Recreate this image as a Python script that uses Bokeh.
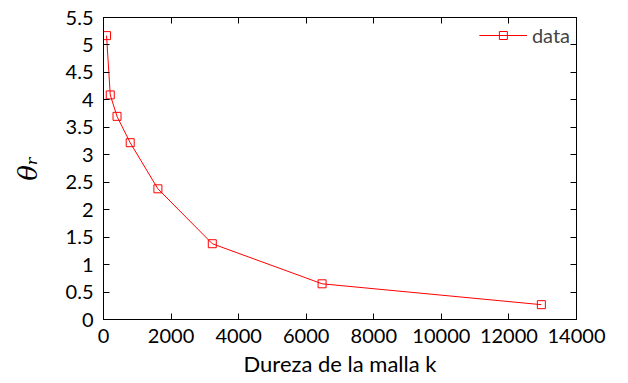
from bokeh.plotting import figure
from bokeh.models import Range1d, FixedTicker, LinearAxis, Legend, LegendItem
from bokeh.embed import file_html
from bokeh.resources import INLINE

# data
k_values = [90, 200, 400, 790, 1610, 3220, 6470, 12960]
theta_r = [5.17, 4.09, 3.70, 3.22, 2.38, 1.38, 0.65, 0.27]
series_name = "data"

x_ticks = [0, 2000, 4000, 6000, 8000, 10000, 12000, 14000]
y_ticks = [0, 0.5, 1, 1.5, 2, 2.5, 3, 3.5, 4, 4.5, 5, 5.5]
y_tick_labels = ["0", "0.5", "1", "1.5", "2", "2.5", "3", "3.5", "4", "4.5", "5", "5.5"]

FONT = "Lato"
RED = "#ff0000"

p = figure(width=628, height=383, output_backend="svg", toolbar_location=None,
           x_range=Range1d(0, 14000), y_range=Range1d(0, 5.5),
           min_border_left=103, min_border_right=52, min_border_top=17, min_border_bottom=64)
p.xgrid.visible = False
p.ygrid.visible = False
p.outline_line_color = "black"
p.outline_line_width = 1
p.background_fill_color = "white"
p.border_fill_color = "white"

line = p.line(k_values, theta_r, line_color=RED, line_width=1)
pts = p.scatter(k_values, theta_r, marker="square", size=8, fill_color=None,
                line_color=RED, line_width=1)

ylabels = {t: l for t, l in zip(y_ticks, y_tick_labels)}

def style(ax, ticks, show_labels):
    ax.ticker = FixedTicker(ticks=ticks)
    ax.major_tick_in = 6
    ax.major_tick_out = 0
    ax.minor_tick_line_color = None
    ax.axis_line_color = "black"
    ax.major_tick_line_color = "black"
    ax.major_label_text_font = FONT
    ax.major_label_text_color = "black"
    ax.major_label_text_font_size = "20px"
    if not show_labels:
        ax.major_label_overrides = {t: "" for t in ticks}
        ax.major_label_standoff = 0

xa = p.xaxis[0]
style(xa, x_ticks, True)
xa.major_label_standoff = 9
xa.axis_label = "Dureza de la malla k"
xa.axis_label_text_font = FONT
xa.axis_label_text_color = "black"
xa.axis_label_text_font_size = "22px"
xa.axis_label_text_font_style = "normal"
xa.axis_label_standoff = 4

ya = p.yaxis[0]
style(ya, y_ticks, True)
ya.major_label_overrides = ylabels
ya.major_label_standoff = 10
ya.axis_label = "θᵣ"
ya.axis_label_text_color = "black"
ya.axis_label_text_font = "DejaVu Serif"
ya.axis_label_text_font_size = "26px"
ya.axis_label_text_font_style = "italic"
ya.axis_label_standoff = 20

top = LinearAxis()
style(top, x_ticks, False)
p.add_layout(top, "above")
right = LinearAxis()
style(right, y_ticks, False)
p.add_layout(right, "right")

legend = Legend(items=[LegendItem(label=series_name, renderers=[line, pts])],
                location="top_right", border_line_color=None,
                background_fill_alpha=0, label_text_font=FONT,
                label_text_font_size="20px", glyph_width=48,
                margin=6, padding=4)
p.add_layout(legend)

open("out.html", "w").write(file_html(p, INLINE))
